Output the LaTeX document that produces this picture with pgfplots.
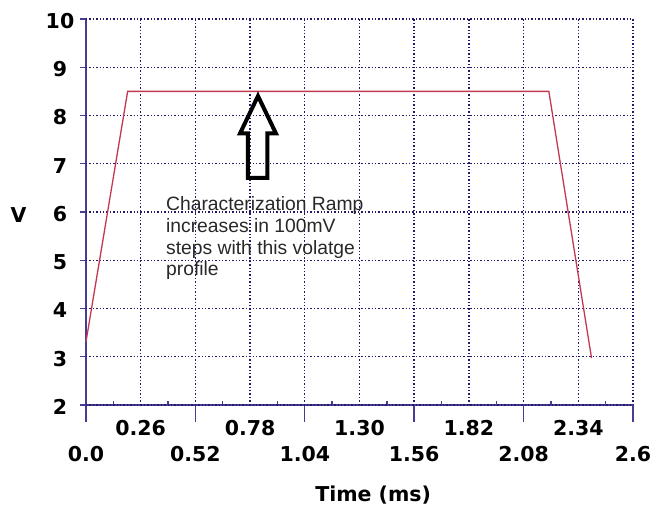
\documentclass[border=0pt]{standalone}
\usepackage{fontspec}
\setmainfont{Liberation Sans}
\newfontfamily\dvs{DejaVu Sans}
\usepackage{pgfplots}
\pgfplotsset{compat=1.18}
\definecolor{axblue}{RGB}{70,60,150}
\definecolor{gridblue}{RGB}{35,25,105}
\definecolor{linered}{RGB}{195,55,80}
\definecolor{textgray}{RGB}{40,40,40}
\newcommand{\lab}{\dvs\bfseries\fontsize{20.5}{24}\selectfont}
\begin{document}
\begin{tikzpicture}
\begin{axis}[
  scale only axis, width=547pt, height=386pt,
  xmin=0, xmax=2.6, ymin=2, ymax=10,
  axis lines*=left,
  axis line style={axblue, line width=1.6pt},
  tick align=outside,
  tick style={axblue, line width=1.4pt},
  major tick length=17pt,
  minor tick length=4pt,
  /pgf/number format/assume math mode=true,
  xtick={0,0.52,1.04,1.56,2.08,2.6},
  xticklabels={\raisebox{-9pt}{0.0},\raisebox{-9pt}{0.52},\raisebox{-9pt}{1.04},\raisebox{-9pt}{1.56},\raisebox{-9pt}{2.08},\raisebox{-9pt}{2.6}},
  extra x ticks={0.26,0.78,1.30,1.82,2.34},
  extra x tick labels={0.26,0.78,1.30,1.82,2.34},
  extra x tick style={major tick length=0pt},
  minor xtick={0.13,0.39,0.65,0.91,1.17,1.43,1.69,1.95,2.21,2.47},
  minor x tick style={yshift=4pt},
  ytick=\empty,
  extra y ticks={2,3,4,5,6,7,8,9,10},
  extra y tick labels={2,3,4,5,6,7,8,9,10},
  extra y tick style={major tick length=6pt},
  minor ytick={2.5,3.5,4.5,5.5,6.5,7.5,8.5,9.5},
  grid=major,
  major grid style={gridblue, line width=1.4pt, dash pattern=on 1.4pt off 2pt},
  xticklabel style={font=\lab, anchor=base, yshift=-31pt},
  yticklabel style={font=\lab, anchor=center, xshift=-20pt, yshift=-2pt},
  xlabel={Time (ms)},
  xlabel style={font=\lab, anchor=base, at={(axis description cs:0.525,-0.25)}},
  ylabel={V},
  ylabel style={font=\lab, rotate=-90, anchor=base, at={(axis description cs:-0.1234,0.474)}},
  clip=false,
]
\coordinate (O) at (rel axis cs:0,0);
\addplot[linered, line width=1.3pt] coordinates {(0,3.31) (0.198,8.5) (2.20,8.5) (2.403,2.97)};
\draw[black, line width=4pt, line join=miter]
  (axis cs:0.8175,8.404) -- (axis cs:0.903,7.627) -- (axis cs:0.862,7.627) --
  (axis cs:0.862,6.705) -- (axis cs:0.770,6.705) -- (axis cs:0.770,7.627) --
  (axis cs:0.732,7.627) -- cycle;
\node[anchor=base west, align=left, inner sep=0pt, text=textgray,
  font=\fontsize{19.3}{21.7}\selectfont] at (axis cs:0.380,4.674)
  {Characterization Ramp\\increases in 100mV\\steps with this volatge\\profile};
\end{axis}
\pgfresetboundingbox
\path[use as bounding box] ([shift={(-86pt,-103pt)}]O) rectangle ([shift={(568pt,405pt)}]O);
\end{tikzpicture}
\end{document}
